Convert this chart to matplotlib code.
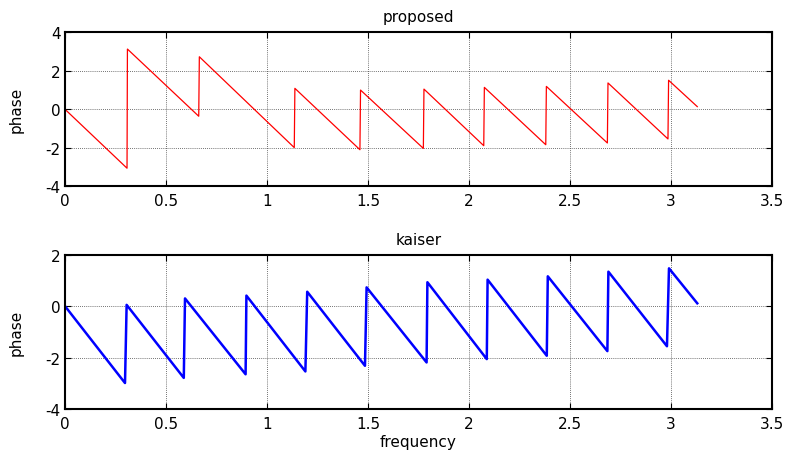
import matplotlib
matplotlib.use("Agg")
import matplotlib.pyplot as plt

plt.rcParams['font.family'] = ['DejaVu Sans']

# Phase response vertices (frequency, phase)
prop_freq = [0.0, 0.307, 0.309, 0.662, 0.665, 1.135, 1.138, 1.46, 1.463,
             1.774, 1.777, 2.073, 2.076, 2.38, 2.383, 2.685, 2.688, 2.985, 2.988, 3.13]
prop_phase = [0.0, -3.06, 3.13, -0.36, 2.73, -1.99, 1.09, -2.10, 1.00,
              -2.03, 1.05, -1.89, 1.14, -1.84, 1.19, -1.75, 1.37, -1.54, 1.51, 0.14]

kais_freq = [0.0, 0.297, 0.305, 0.588, 0.594, 0.894, 0.898, 1.19, 1.199,
             1.485, 1.493, 1.79, 1.794, 2.088, 2.092, 2.385, 2.39, 2.685, 2.69, 2.98, 2.99, 3.13]
kais_phase = [0.0, -2.99, 0.05, -2.79, 0.30, -2.65, 0.41, -2.54, 0.56,
              -2.32, 0.73, -2.19, 0.93, -2.06, 1.03, -1.93, 1.16, -1.75, 1.34, -1.56, 1.47, 0.11]

xticks = [0, 0.5, 1, 1.5, 2, 2.5, 3, 3.5]
xticklabels = ['0', '0.5', '1', '1.5', '2', '2.5', '3', '3.5']
top_yticks = [-4, -2, 0, 2, 4]
bot_yticks = [-4, -2, 0, 2]

FS = 11

fig = plt.figure(figsize=(7.88, 4.52), dpi=100)
ax1 = fig.add_axes([0.0825, 0.5856, 0.8972, 0.3407])
ax2 = fig.add_axes([0.0825, 0.0929, 0.8972, 0.3414])

ax1.plot(prop_freq, prop_phase, color='#ff0000', lw=0.9)
ax2.plot(kais_freq, kais_phase, color='#0000ff', lw=1.8)

for ax, yt, title in [(ax1, top_yticks, 'proposed'), (ax2, bot_yticks, 'kaiser')]:
    ax.set_xlim(0, 3.5)
    ax.set_ylim(yt[0], yt[-1])
    ax.set_xticks(xticks)
    ax.set_xticklabels(xticklabels)
    ax.set_yticks(yt)
    ax.set_yticklabels([str(v) for v in yt])
    ax.grid(True, color='#444444', linestyle=(0, (1, 1.5)), linewidth=0.6)
    ax.tick_params(direction='in', top=True, right=True, length=4, width=0.8,
                   labelsize=FS)
    ax.tick_params(axis='x', pad=5)
    ax.tick_params(axis='y', pad=3)
    for s in ax.spines.values():
        s.set_linewidth(1.5)
    ax.set_title(title, fontsize=FS, pad=8)
    ax.set_ylabel('phase', fontsize=FS, labelpad=16)

ax2.set_xlabel('frequency', fontsize=FS, labelpad=2)

fig.savefig('out.png', dpi=100)
